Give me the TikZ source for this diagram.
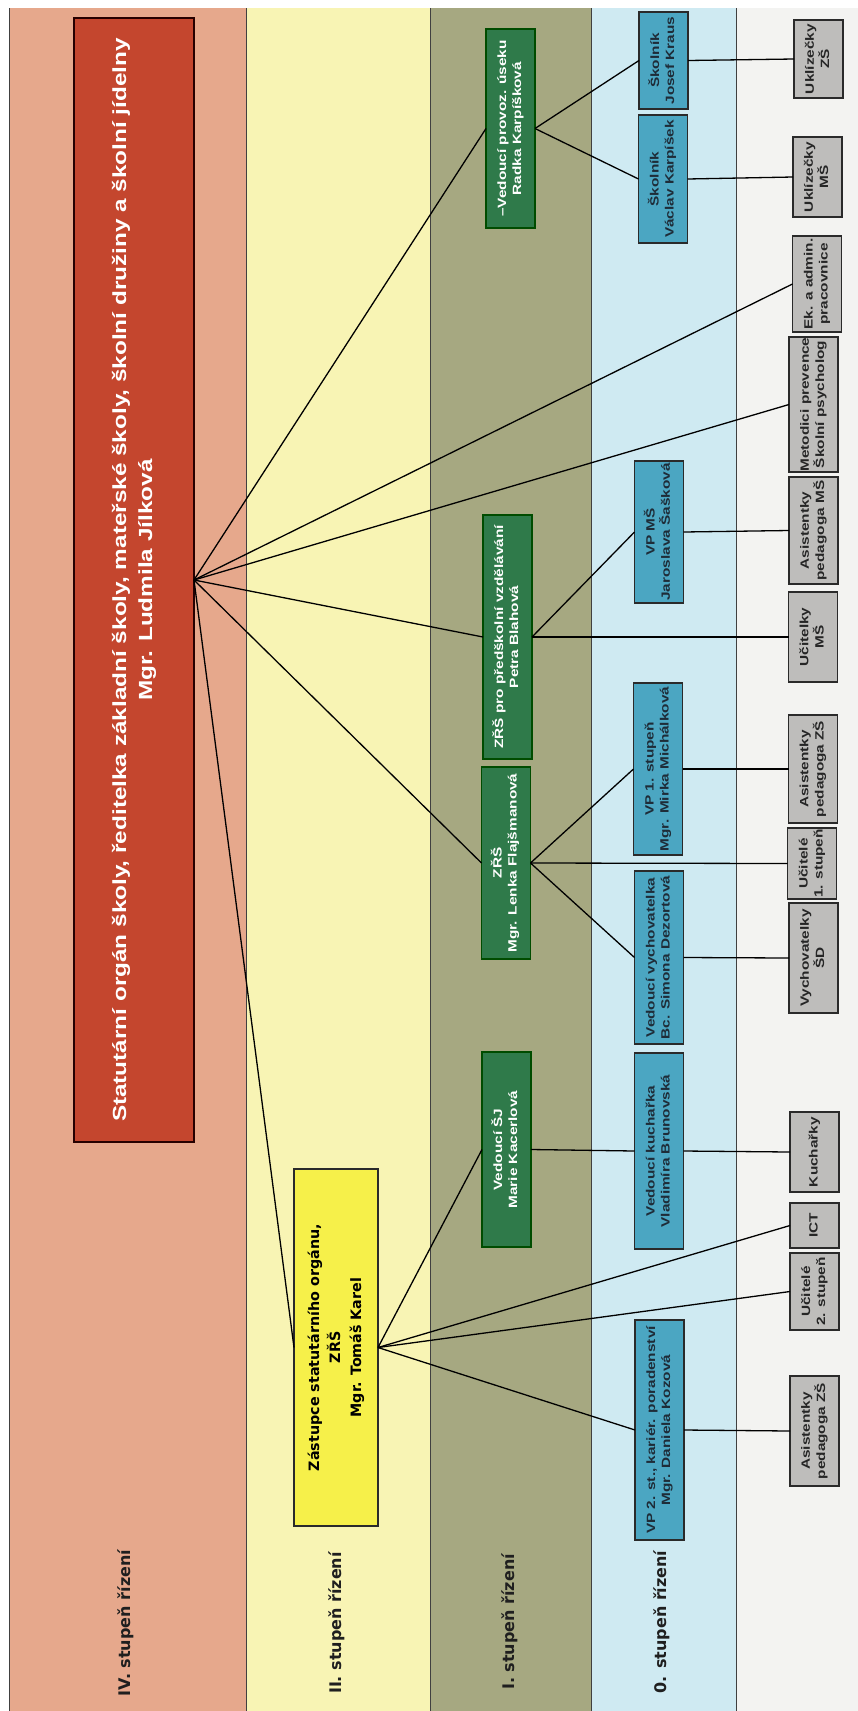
\documentclass[tikz,border=0pt]{standalone}
\usepackage{fontspec}
\usepackage{graphicx}
\setmainfont{Liberation Sans}
\newfontfamily\boxfont{Liberation Sans}[FakeStretch=1.28]
\newfontfamily\widefont{DejaVu Sans}
\newcommand{\rt}[1]{\rotatebox{90}{\begin{tabular}{@{}c@{}}#1\end{tabular}}}
\definecolor{bandIV}{HTML}{E6A88C}
\definecolor{bandII}{HTML}{F8F4B4}
\definecolor{bandI}{HTML}{A6A881}
\definecolor{bandO}{HTML}{CFEAF2}
\definecolor{paper}{HTML}{F3F3F1}
\definecolor{redfill}{HTML}{C4462E}
\definecolor{yelfill}{HTML}{F6F04A}
\definecolor{grnfill}{HTML}{2F7A4A}
\definecolor{bluefill}{HTML}{4BA6C2}
\definecolor{grayfill}{HTML}{BEBDBB}
\definecolor{edge}{HTML}{2A2A2A}
\definecolor{bluetext}{HTML}{1E2C38}
\definecolor{graytext}{HTML}{262626}
\begin{document}
\begin{tikzpicture}[x=1pt,y=-1pt,
  box/.style={draw=edge, line width=1.2pt, inner sep=0pt, outer sep=0pt, align=center},
  redbox/.style={box, fill=redfill, draw=black!85!red, line width=2.2pt, text=white, font=\boxfont\bfseries\fontsize{19}{26}\selectfont},
  yelbox/.style={box, fill=yelfill, text=black, font=\widefont\bfseries\fontsize{14.3}{21}\selectfont},
  grnbox/.style={box, fill=grnfill, draw=black!70!green, text=white, minimum width=49pt, font=\boxfont\bfseries\fontsize{12}{15}\selectfont},
  bluebox/.style={box, fill=bluefill, text=bluetext, minimum width=49pt, font=\boxfont\bfseries\fontsize{12}{15}\selectfont},
  graybox/.style={box, fill=grayfill, text=graytext, minimum width=49pt, font=\boxfont\bfseries\fontsize{12}{15}\selectfont},
  lbl/.style={inner sep=0pt, text=black!88, font=\widefont\bfseries\fontsize{16}{19}\selectfont},
  conn/.style={draw=black, line width=1.3pt},
  bandline/.style={draw=black!75, line width=1pt}
]
\useasboundingbox (0,0) rectangle (858,1711);
% background and bands
\fill[white] (0,0) rectangle (858,1711);
\fill[paper] (736,8) rectangle (858,1711);
\fill[bandIV] (9,8) rectangle (246,1711);
\fill[bandII] (246,8) rectangle (430,1711);
\fill[bandI] (430,8) rectangle (591,1711);
\fill[bandO] (591,8) rectangle (736,1711);
\draw[bandline] (9,8) -- (9,1711);
\draw[bandline] (246,8) -- (246,1711);
\draw[bandline] (430,8) -- (430,1711);
\draw[bandline] (591,8) -- (591,1711);
\draw[bandline] (736,8) -- (736,1711);

% band labels
\node[lbl] (l4) at (126,1623) {\rotatebox{90}{IV. stupeň řízení}};
\node[lbl] (l2) at (337,1623) {\rotatebox{90}{II. stupeň řízení}};
\node[lbl] (l1) at (510,1622) {\rotatebox{90}{I. stupeň řízení}};
\node[lbl] (l0) at (662,1622) {\rotatebox{90}{0. stupeň řízení}};

% level IV
\node[redbox, minimum width=120pt, minimum height=1124pt] (dir) at (134,580)
  {\rt{Statutární orgán školy, ředitelka základní školy, mateřské školy, školní družiny a školní jídelny\\Mgr. Ludmila Jílková}};
% level II
\node[yelbox, minimum width=84pt, minimum height=357pt] (zast) at (336,1347.5)
  {\rt{Zástupce statutárního orgánu,\\ZŘŠ\\Mgr. Tomáš Karel}};
% level I
\node[grnbox, minimum height=199pt] (prov) at (510.5,128.5) {\rt{–Vedoucí provoz. úseku\\Radka Karpíšková}};
\node[grnbox, minimum height=244pt] (pred) at (507.5,637) {\rt{ZŘŠ pro předškolní vzdělávání\\Petra Blahová}};
\node[grnbox, minimum height=192pt] (zrs) at (506,863) {\rt{ZŘŠ\\Mgr. Lenka Flajšmanová}};
\node[grnbox, minimum height=195pt] (sj) at (506.5,1149.5) {\rt{Vedoucí ŠJ\\Marie Kacerlová}};
% level 0
\node[bluebox, minimum height=97pt] (kraus) at (663.5,60.5) {\rt{Školník\\Josef Kraus}};
\node[bluebox, minimum height=128pt] (vaclav) at (663,179) {\rt{Školník\\Václav Karpíšek}};
\node[bluebox, minimum height=142pt] (vpms) at (659,532) {\rt{VP MŠ\\Jaroslava Šašková}};
\node[bluebox, minimum height=172pt] (vp1) at (658,769) {\rt{VP 1. stupeň\\Mgr. Mirka Michálková}};
\node[bluebox, minimum height=173pt] (vych) at (659,957.5) {\rt{Vedoucí vychovatelka\\Bc. Simona Dezortová}};
\node[bluebox, minimum height=196pt] (kuch) at (659,1151) {\rt{Vedoucí kuchařka\\Vladimíra Brunovská}};
\node[bluebox, minimum height=220pt] (vp2) at (659.5,1430) {\rt{VP 2. st., kariér. poradenství\\Mgr. Daniela Kozová}};
% staff
\node[graybox, minimum height=78pt] (uzs) at (818.5,59) {\rt{Uklízečky\\ZŠ}};
\node[graybox, minimum height=80pt] (ums) at (817.5,177) {\rt{Uklízečky\\MŠ}};
\node[graybox, minimum height=96pt] (ek) at (817,284) {\rt{Ek. a admin.\\pracovnice}};
\node[graybox, minimum height=135pt] (met) at (813.5,404.5) {\rt{Metodici prevence\\Školní psycholog}};
\node[graybox, minimum height=107pt] (apms) at (813.5,530.5) {\rt{Asistentky\\pedagoga MŠ}};
\node[graybox, minimum height=90pt] (ucms) at (813,637) {\rt{Učitelky\\MŠ}};
\node[graybox, minimum height=108pt] (apzs1) at (813,769) {\rt{Asistentky\\pedagoga ZŠ}};
\node[graybox, minimum height=71pt] (uc1) at (812,863.5) {\rt{Učitelé\\1. stupeň}};
\node[graybox, minimum height=110pt] (vychsd) at (813.5,958) {\rt{Vychovatelky\\ŠD}};
\node[graybox, minimum height=80pt] (kuchar) at (814.5,1152) {\rt{Kuchařky}};
\node[graybox, minimum height=45pt] (ict) at (814.5,1225.5) {\rt{ICT}};
\node[graybox, minimum height=77pt] (uc2) at (814.5,1291.5) {\rt{Učitelé\\2. stupeň}};
\node[graybox, minimum height=110pt] (apzs2) at (814.5,1431) {\rt{Asistentky\\pedagoga ZŠ}};

% connectors
\draw[conn] (dir.east) -- (prov.west);
\draw[conn] (dir.east) -- (ek.west);
\draw[conn] (dir.east) -- (met.west);
\draw[conn] (dir.east) -- (pred.west);
\draw[conn] (dir.east) -- (zrs.west);
\draw[conn] (dir.east) -- (zast.west);
\draw[conn] (zast.east) -- (sj.west);
\draw[conn] (zast.east) -- (ict.west);
\draw[conn] (zast.east) -- (uc2.west);
\draw[conn] (zast.east) -- (vp2.west);
\draw[conn] (sj.east) -- (kuch.west);
\draw[conn] (kuch.east) -- (kuchar.west);
\draw[conn] (vp2.east) -- (apzs2.west);
\draw[conn] (zrs.east) -- (vp1.west);
\draw[conn] (zrs.east) -- (uc1.west);
\draw[conn] (zrs.east) -- (vych.west);
\draw[conn] (vp1.east) -- (apzs1.west);
\draw[conn] (vych.east) -- (vychsd.west);
\draw[conn] (pred.east) -- (vpms.west);
\draw[conn] (pred.east) -- (ucms.west);
\draw[conn] (vpms.east) -- (apms.west);
\draw[conn] (prov.east) -- (kraus.west);
\draw[conn] (prov.east) -- (vaclav.west);
\draw[conn] (kraus.east) -- (uzs.west);
\draw[conn] (vaclav.east) -- (ums.west);
\end{tikzpicture}
\end{document}
